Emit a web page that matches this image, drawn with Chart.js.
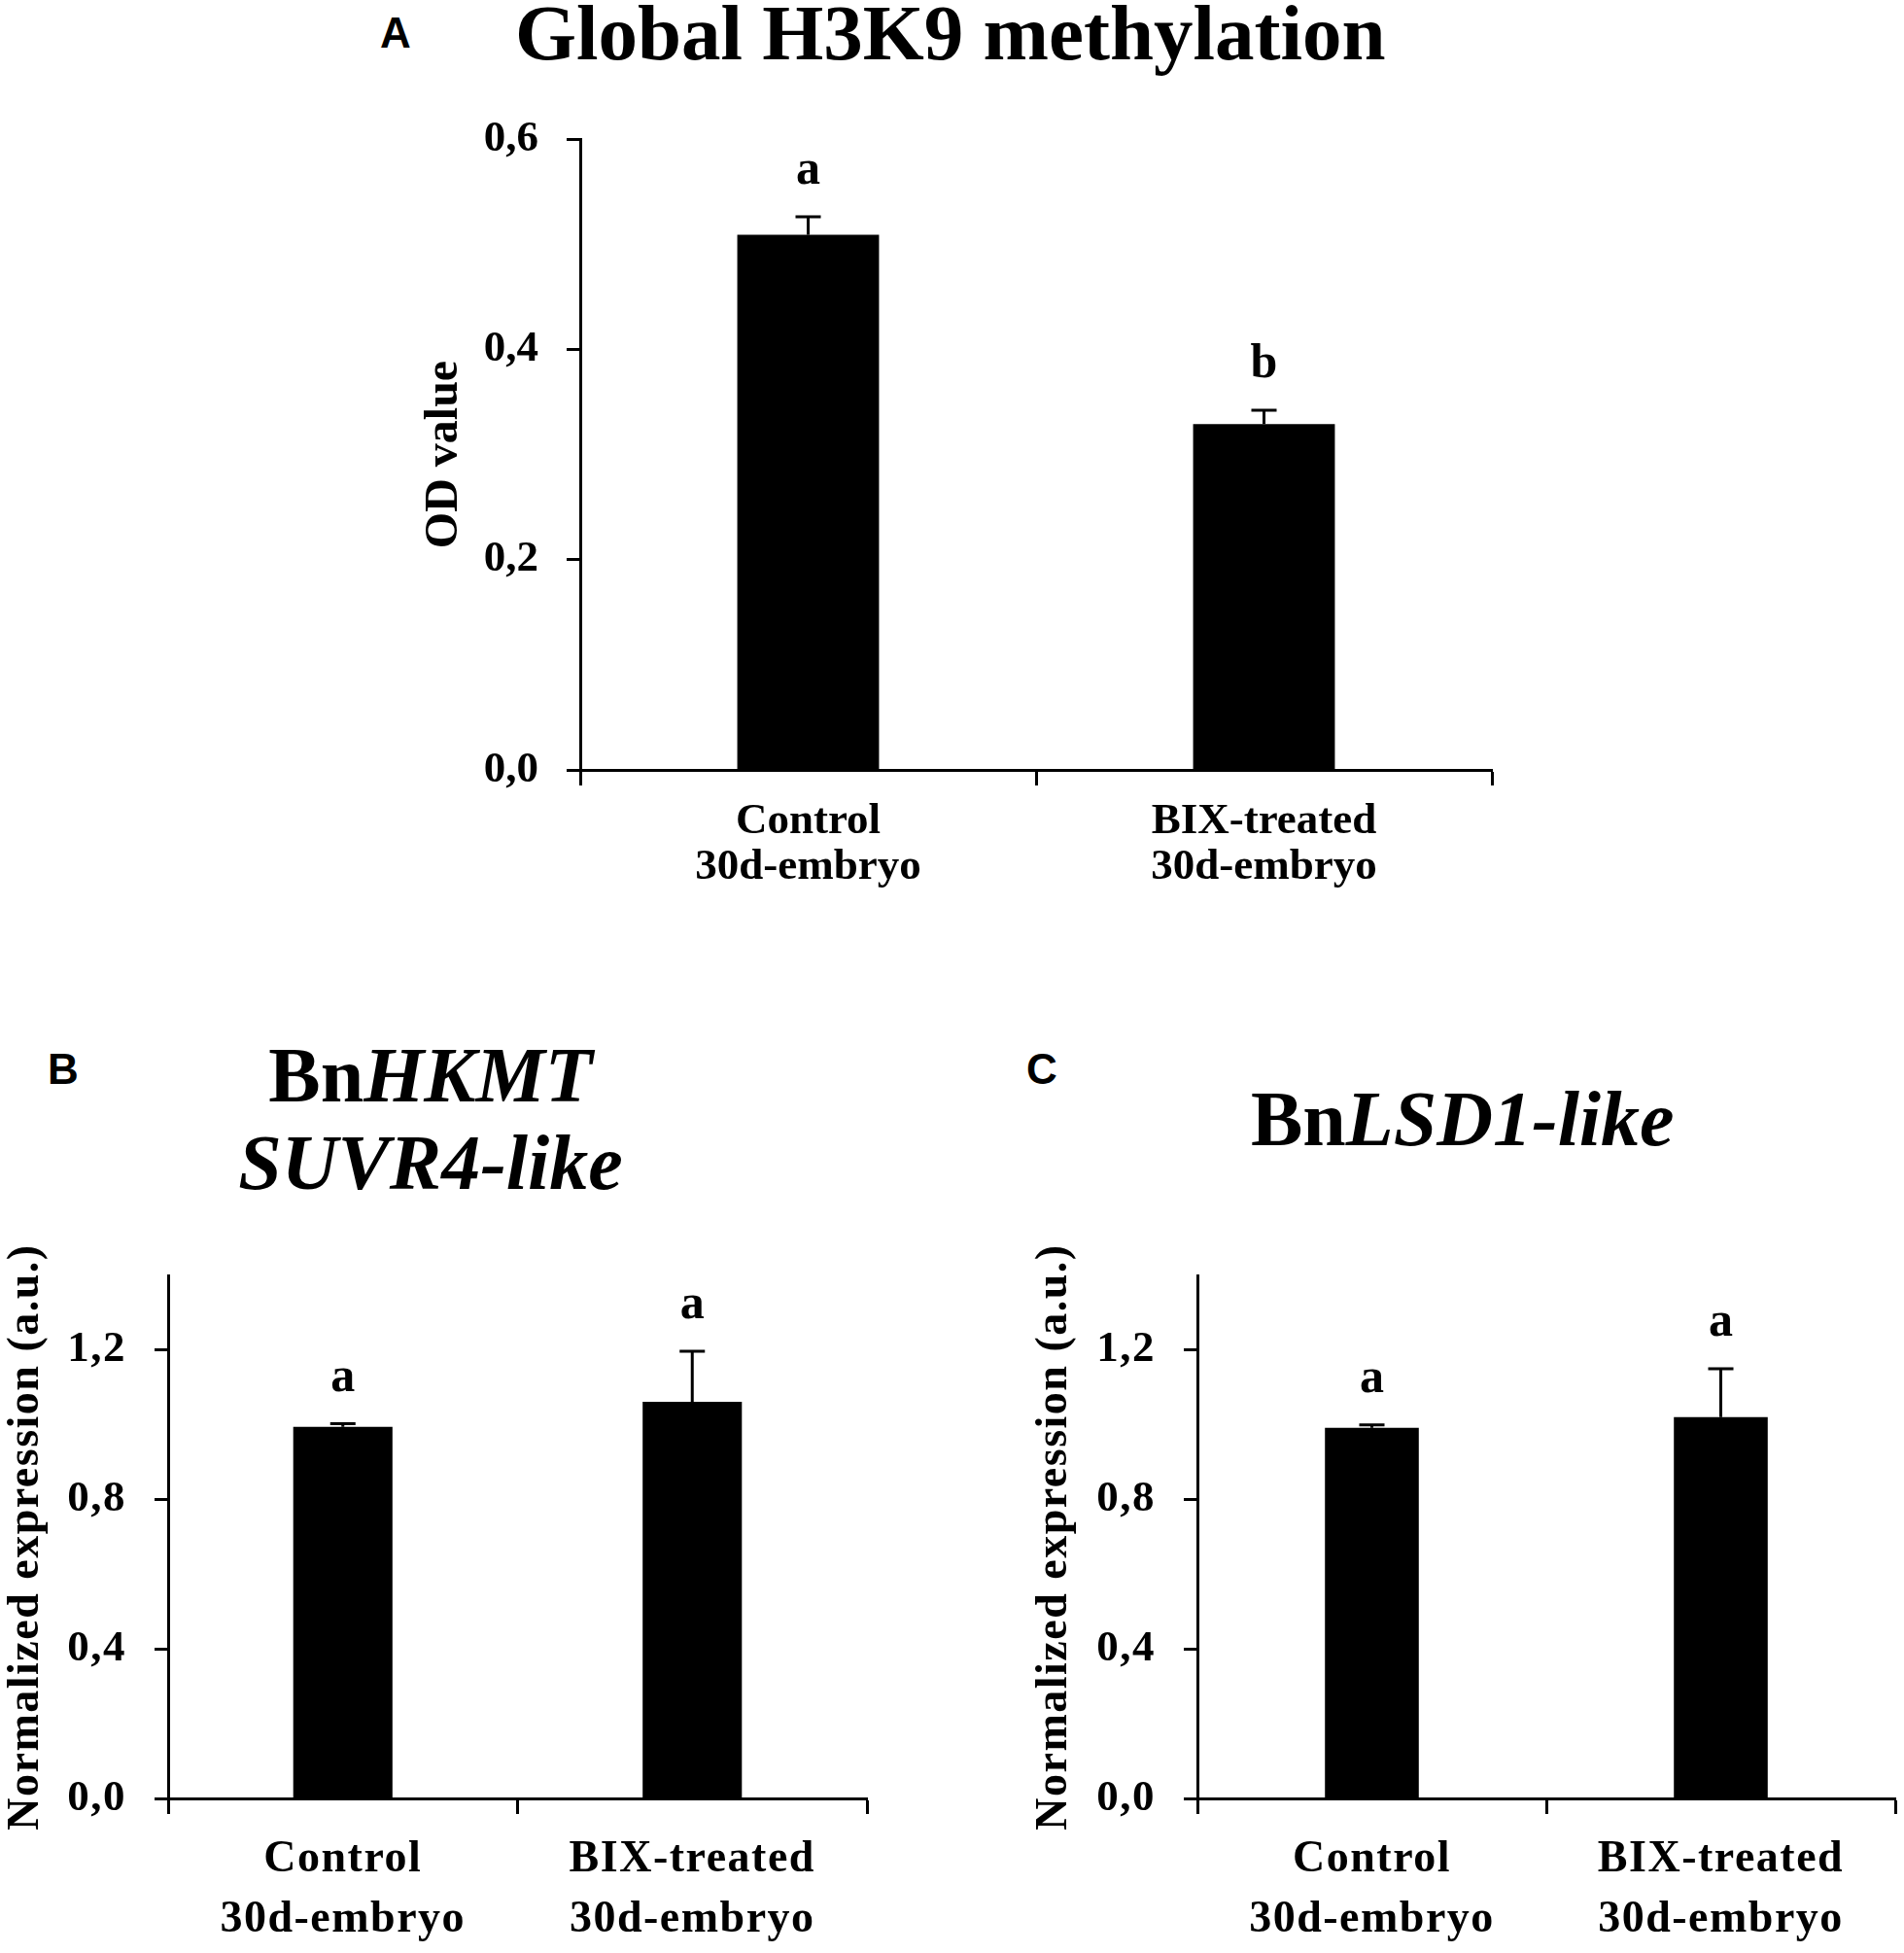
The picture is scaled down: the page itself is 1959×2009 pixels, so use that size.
<!DOCTYPE html>
<html>
<head>
<meta charset="utf-8">
<script src="https://cdn.jsdelivr.net/npm/chart.js@4.4.1/dist/chart.umd.min.js"></script>
<style>
  body { margin: 0; background: #fff; }
  #page { position: relative; width: 1959px; height: 2009px; overflow: hidden; background: #fff; }
  .panel { position: absolute; }
  .letter { position: absolute; font: bold 44px "Liberation Sans", Arial, sans-serif; line-height: 1; color: #000; }
  .title { position: absolute; font: bold 80px "Liberation Serif", "Times New Roman", serif; color: #000; white-space: nowrap; }
  .title i { font-style: italic; }
</style>
</head>
<body>
<div id="page">
  <div class="letter" style="left:391px; top:12px;">A</div>
  <div class="title" style="left:530px; top:-6px; font-size:81px; line-height:1;">Global H3K9 methylation</div>

  <div class="letter" style="left:49px; top:1078px;">B</div>
  <div class="title" style="left:443px; top:1061px; line-height:90px; text-align:center; transform:translateX(-50%);">Bn<i>HKMT</i><br><i>SUVR4-like</i></div>

  <div class="letter" style="left:1056px; top:1078px;">C</div>
  <div class="title" style="left:1287px; top:1111px; line-height:1;">Bn<i>LSD1-like</i></div>

  <div class="panel" style="left:0; top:0;"><canvas id="chartA" width="1600" height="960"></canvas></div>
  <div class="panel" style="left:0; top:1250px;"><canvas id="chartB" width="960" height="759"></canvas></div>
  <div class="panel" style="left:1000px; top:1250px;"><canvas id="chartC" width="959" height="759"></canvas></div>
</div>
<script>
// categories shared by all three panels
const categories = [["Control", "30d-embryo"], ["BIX-treated", "30d-embryo"]];

// A: global H3K9 methylation (OD value)
const h3k9Means = [0.509, 0.329];
const h3k9Errors = [0.017, 0.013];
const h3k9Letters = ["a", "b"];
const h3k9Ticks = [0, 0.2, 0.4, 0.6];

// B: BnHKMT SUVR4-like expression
const hkmtMeans = [0.995, 1.062];
const hkmtErrors = [0.008, 0.135];
const hkmtLetters = ["a", "a"];

// C: BnLSD1-like expression
const lsd1Means = [0.992, 1.021];
const lsd1Errors = [0.008, 0.129];
const lsd1Letters = ["a", "a"];

const exprTicks = [0, 0.4, 0.8, 1.2];

const SERIF = "'Liberation Serif', 'Times New Roman', serif";

// upper error whisker + significance letter above each bar
const errorBars = {
  id: "errorBars",
  beforeDraw(chart, args, opts) {
    // panels B and C have slightly spaced-out lettering
    chart.ctx.letterSpacing = opts.spacing || "0px";
  },
  afterDatasetsDraw(chart, args, opts) {
    const ctx = chart.ctx;
    const y = chart.scales.y;
    const meta = chart.getDatasetMeta(0);
    const values = chart.data.datasets[0].data;
    ctx.save();
    ctx.letterSpacing = "0px";
    ctx.strokeStyle = "#000";
    ctx.fillStyle = "#000";
    ctx.lineWidth = 3;
    ctx.font = "bold 50px " + SERIF;
    ctx.textAlign = "center";
    ctx.textBaseline = "alphabetic";
    meta.data.forEach((bar, i) => {
      const top = y.getPixelForValue(values[i] + opts.errors[i]);
      ctx.beginPath();
      ctx.moveTo(bar.x, bar.y);
      ctx.lineTo(bar.x, top);
      ctx.moveTo(bar.x - 13, top);
      ctx.lineTo(bar.x + 13, top);
      ctx.stroke();
      ctx.fillText(opts.letters[i], bar.x, top - 34);
    });
    ctx.restore();
  }
};

function makeChart(id, cfg) {
  return new Chart(document.getElementById(id), {
    type: "bar",
    data: {
      labels: categories,
      datasets: [{
        data: cfg.means,
        backgroundColor: "#000",
        borderWidth: 0,
        categoryPercentage: 1,
        barPercentage: cfg.barPct
      }]
    },
    options: {
      responsive: false,
      animation: false,
      layout: { padding: cfg.padding },
      plugins: {
        legend: { display: false },
        tooltip: { enabled: false },
        errorBars: { errors: cfg.errors, letters: cfg.letters, spacing: cfg.spacing }
      },
      scales: {
        x: {
          offset: true,
          grid: { offset: true, drawOnChartArea: false, drawTicks: true, tickLength: 16, tickWidth: 3, tickColor: "#000" },
          border: { display: true, color: "#000", width: 3 },
          ticks: {
            color: "#000",
            padding: cfg.xPad,
            maxRotation: 0,
            autoSkip: false,
            font: { family: SERIF, weight: "bold", size: cfg.xFont, lineHeight: cfg.xLine }
          },
          afterFit: s => { s.height = cfg.xHeight; }
        },
        y: {
          min: 0,
          max: cfg.max,
          grid: { drawOnChartArea: false, drawTicks: true, tickLength: 14, tickWidth: 3, tickColor: "#000" },
          border: { display: true, color: "#000", width: 3 },
          ticks: {
            color: "#000",
            padding: 29,
            font: { family: SERIF, weight: "bold", size: 45 },
            callback: v => v.toFixed(1).replace(".", ",")
          },
          afterBuildTicks: s => { s.ticks = cfg.ticks.map(v => ({ value: v })); },
          afterFit: s => { s.width = cfg.yWidth; },
          title: {
            display: true,
            text: cfg.yTitle,
            color: "#000",
            padding: 0,
            font: { family: SERIF, weight: "bold", size: cfg.yTitleSize, lineHeight: 1.2 }
          }
        }
      }
    },
    plugins: [errorBars]
  });
}

makeChart("chartA", {
  means: h3k9Means, errors: h3k9Errors, letters: h3k9Letters, ticks: h3k9Ticks, max: 0.6,
  barPct: 0.311, yTitle: "OD value", yTitleSize: 48, spacing: "0px",
  padding: { left: 429, top: 143, right: 65, bottom: 0 },
  yWidth: 168, xHeight: 168, xPad: 14, xFont: 45, xLine: 1.045
});

makeChart("chartB", {
  means: hkmtMeans, errors: hkmtErrors, letters: hkmtLetters, ticks: exprTicks, max: 1.4,
  barPct: 0.284, yTitle: "Normalized expression (a.u.)", yTitleSize: 46, spacing: "1.5px",
  padding: { left: 0, top: 62, right: 68, bottom: 0 },
  yWidth: 173, xHeight: 159, xPad: 17, xFont: 46, xLine: 1.33
});

makeChart("chartC", {
  means: lsd1Means, errors: lsd1Errors, letters: lsd1Letters, ticks: exprTicks, max: 1.4,
  barPct: 0.269, yTitle: "Normalized expression (a.u.)", yTitleSize: 46, spacing: "1.5px",
  padding: { left: 58, top: 62, right: 9, bottom: 0 },
  yWidth: 174, xHeight: 159, xPad: 17, xFont: 46, xLine: 1.33
});
</script>
</body>
</html>
